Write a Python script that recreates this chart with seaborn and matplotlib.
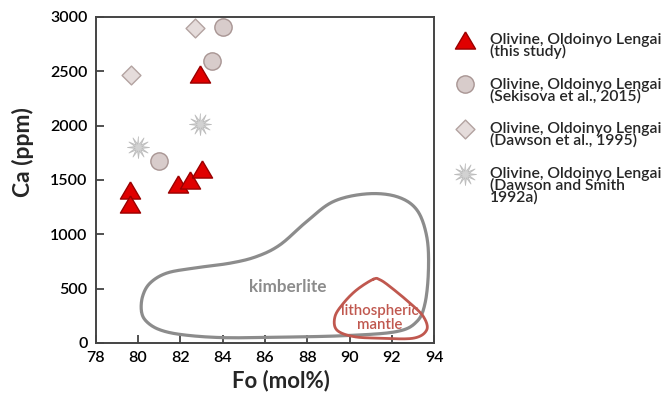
import numpy as np
import pandas as pd
import seaborn as sns
import matplotlib.pyplot as plt
from matplotlib.transforms import IdentityTransform

# Olivine data (Fo mol%, Ca ppm)
this_fo = [79.6, 79.6, 81.9, 82.45, 83.0, 82.95]
this_ca = [1405, 1280, 1465, 1500, 1600, 2470]
sek_fo = [84.0, 83.5, 81.0]
sek_ca = [2905, 2595, 1670]
daw95_fo = [82.7, 79.65]
daw95_ca = [2900, 2465]
dsm_fo = [80.0, 82.95]
dsm_ca = [1800, 2015]

# field outlines (control points)
kimb_fo = [80.16, 80.21, 80.56, 81.34, 82.6, 84.34, 85.6, 86.71, 87.97, 89.23, 90.81,
           92.23, 93.18, 93.65, 93.73, 93.57, 93.18, 92.23, 89.87, 86.71, 84.03, 82.13,
           81.03, 80.4]
kimb_ca = [288, 426, 549, 641, 687, 733, 794, 902, 1116, 1300, 1371,
           1346, 1224, 978, 672, 365, 196, 104, 67, 52, 48, 74,
           120, 196]
lith_fo = [91.13, 90.34, 89.71, 89.31, 89.39, 90.18, 91.44, 93.02, 93.65, 93.49, 92.86, 91.91, 91.44]
lith_ca = [586, 488, 365, 242, 120, 58, 43, 43, 120, 242, 365, 518, 580]

label_head = "Olivine, Oldoinyo Lengai"
label_refs = [["(this study)"],
              ["(Sekisova et al., 2015)"],
              ["(Dawson et al., 1995)"],
              ["(Dawson and Smith", "1992a)"]]


def closed_spline(xs, ys, n=20):
    # catmull-rom through the outline points, closed
    p = np.column_stack([xs, ys])
    m = len(p)
    out = []
    for i in range(m):
        p0, p1, p2, p3 = p[i - 1], p[i], p[(i + 1) % m], p[(i + 2) % m]
        for t in np.linspace(0, 1, n, endpoint=False):
            t2, t3 = t * t, t * t * t
            out.append(0.5 * (2 * p1 + (-p0 + p2) * t + (2 * p0 - 5 * p1 + 4 * p2 - p3) * t2
                              + (-p0 + 3 * p1 - 3 * p2 + p3) * t3))
    out.append(out[0])
    out = np.array(out)
    return out[:, 0], out[:, 1]


def star_marker(n=12, inner=0.32):
    ang = np.linspace(0, 2 * np.pi, 2 * n, endpoint=False) + np.pi / 2
    r = np.where(np.arange(2 * n) % 2 == 0, 1.0, inner)
    return np.column_stack([r * np.cos(ang), r * np.sin(ang)])


tri_marker = [(0, 0.85), (-1, -0.85), (1, -0.85), (0, 0.85)]

sns.set_theme(style="white")
plt.rcParams['font.family'] = ['Lato', 'DejaVu Sans']

fig = plt.figure(figsize=(6.7, 4.01), dpi=100)
ax = fig.add_axes([0.143, 0.145, 0.505, 0.813])

kx, ky = closed_spline(kimb_fo, kimb_ca)
ax.plot(kx, ky, color='#8c8c8c', lw=2.3, zorder=1)
lx, ly = closed_spline(lith_fo, lith_ca)
ax.plot(lx, ly, color='#c0584f', lw=2.0, zorder=1)

ax.text(87.1, 518, "kimberlite", color='#8c8c8c', fontsize=12.3, fontweight='bold',
        ha='center', va='center')
ax.text(91.44, 225, "lithospheric\nmantle", color='#c0584f', fontsize=10.8, fontweight='semibold',
        ha='center', va='center', linespacing=1.0)

sns.scatterplot(x=daw95_fo, y=daw95_ca, marker='D', s=92, color='#e5dcdb',
                edgecolor='#b3a3a1', linewidth=1.0, ax=ax, label='d95', zorder=3)
sns.scatterplot(x=sek_fo, y=sek_ca, marker='o', s=155, color='#d8cccb',
                edgecolor='#a89593', linewidth=1.0, ax=ax, label='sek', zorder=3)
sns.scatterplot(x=dsm_fo, y=dsm_ca, marker=star_marker(), s=250, color='#d2d2d2',
                edgecolor='#bdbdbd', linewidth=0.6, ax=ax, label='dsm', zorder=3)
sns.scatterplot(x=this_fo, y=this_ca, marker=tri_marker, s=210, color='#e00000',
                edgecolor='#9a0000', linewidth=1.0, ax=ax, label='this', zorder=4)

ax.set_xlim(78, 94)
ax.set_ylim(0, 3000)
ax.set_xticks(range(78, 95, 2))
ax.set_yticks(range(0, 3001, 500))
ax.tick_params(direction='in', length=6, width=1.2, color='#333333',
               labelsize=11.5, labelcolor='black', top=False, right=False,
               bottom=True, left=True, pad=6)
for lab in ax.get_xticklabels() + ax.get_yticklabels():
    lab.set_fontweight('semibold')
for sp in ax.spines.values():
    sp.set_color('#444444')
    sp.set_linewidth(1.4)

ax.set_xlabel("Fo (mol%)", fontsize=16, fontweight='bold')
ax.set_ylabel("Ca (ppm)", fontsize=16.5, fontweight='bold')
ax.xaxis.set_label_coords(0.547, -0.083)
ax.yaxis.set_label_coords(-0.182, 0.585)

# legend: marker sits on the first line, references below
h, l = ax.get_legend_handles_labels()
hd = dict(zip(l, h))
keys = ['this', 'sek', 'd95', 'dsm']
leg = ax.legend([hd[k] for k in keys], [label_head] * 4, loc='upper left',
                bbox_to_anchor=(1.025, 0.97), frameon=False, fontsize=11.3,
                handletextpad=0.6, labelspacing=1.95, borderaxespad=0)
for t in leg.get_texts():
    t.set_fontweight('semibold')

fig.canvas.draw()
rend = fig.canvas.get_renderer()
for t, extra in zip(leg.get_texts(), label_refs):
    bb = t.get_window_extent(rend)
    _, _, descent = rend.get_text_width_height_descent(t.get_text(), t.get_fontproperties(), ismath=False)
    base = bb.y0 + descent
    for k, line in enumerate(extra):
        fig.text(bb.x0, base - 11.8 * (k + 1), line, transform=IdentityTransform(),
                 fontsize=11.3, fontweight='semibold', va='baseline', ha='left')

fig.savefig("out.png", dpi=100)
